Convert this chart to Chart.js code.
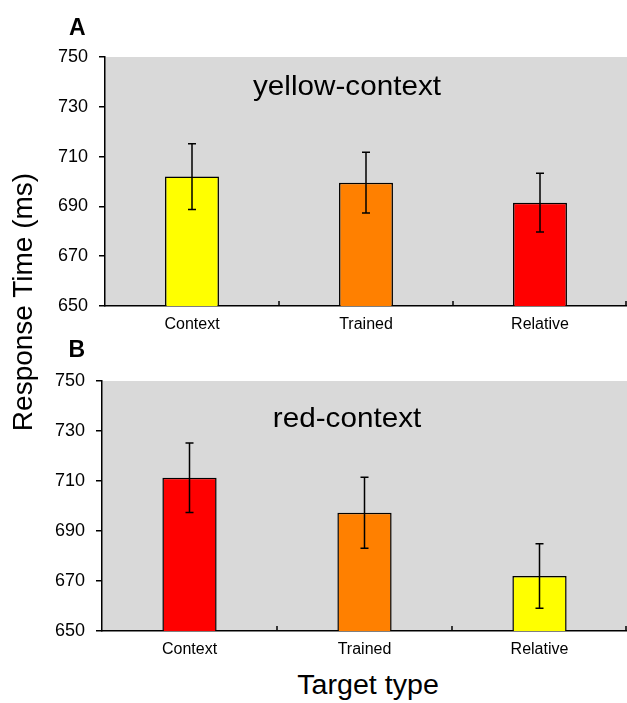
<!DOCTYPE html>
<html lang="en">
<head>
    <meta charset="UTF-8">
    <title>Response Time by Target type</title>
    <script src="https://cdn.jsdelivr.net/npm/chart.js"></script>
    <style>
        body { margin: 0; background: #fff; font-family: "Liberation Sans", Arial, sans-serif; }
        .figure { position: relative; width: 627px; height: 703px; overflow: hidden; }
        .figure canvas { position: absolute; left: 0; }
        .txt { position: absolute; line-height: 1; white-space: nowrap; color: #000; }
        .panel-title { font-size: 28px; transform: translateX(-50%) scaleX(1.06); }
        .letter { font-size: 23px; font-weight: bold; }
    </style>
</head>
<body>
    <div class="figure">
        <canvas id="chartA" width="627" height="345" style="top:0"></canvas>
        <canvas id="chartB" width="627" height="340" style="top:330px"></canvas>

        <div class="txt letter" style="left:69px; top:15.5px">A</div>
        <div class="txt letter" style="left:68.5px; top:338px">B</div>
        <div class="txt panel-title" style="left:347px; top:72px">yellow-context</div>
        <div class="txt panel-title" style="left:347px; top:404px">red-context</div>
        <div class="txt" style="left:-127px; top:288px; width:300px; text-align:center; font-size:28px; transform:rotate(-90deg)">Response Time (ms)</div>
        <div class="txt" style="left:367.5px; top:672px; font-size:27px; transform:translateX(-50%) scaleX(1.06)">Target type</div>
    </div>

<script>
// data
const categories = ['Context', 'Trained', 'Relative'];
const yTicks = [650, 670, 690, 710, 730, 750];

// panel A - yellow context
const yellowMeans = [702, 699.5, 691.5];
const yellowErr = [13.2, 12.2, 11.8];
const yellowColors = ['#ffff00', '#ff8000', '#ff0000'];

// panel B - red context
const redMeans = [711.3, 697.3, 672];
const redErr = [13.9, 14.2, 12.9];
const redColors = ['#ff0000', '#ff8000', '#ffff00'];

const fontFamily = '"Liberation Sans", Arial, sans-serif';

// gray plot area + inner tick marks on x axis + error bars
const panelPlugin = {
    id: 'panelPlugin',
    beforeDraw(chart) {
        const a = chart.chartArea;
        const ctx = chart.ctx;
        ctx.save();
        ctx.fillStyle = '#d9d9d9';
        ctx.fillRect(a.left, a.top, a.right - a.left, a.bottom - a.top);
        ctx.restore();
    },
    afterDatasetsDraw(chart) {
        const ctx = chart.ctx;
        const xs = chart.scales.x;
        const ys = chart.scales.y;
        const errs = chart.options.plugins.panelPlugin.errors;
        const meta = chart.getDatasetMeta(0);
        const data = chart.data.datasets[0].data;

        ctx.save();
        ctx.strokeStyle = '#000';
        ctx.lineWidth = 1.5;

        // error bars
        meta.data.forEach((bar, i) => {
            const top = ys.getPixelForValue(data[i] + errs[i]);
            const bot = ys.getPixelForValue(data[i] - errs[i]);
            ctx.beginPath();
            ctx.moveTo(bar.x, top);
            ctx.lineTo(bar.x, bot);
            ctx.moveTo(bar.x - 4, top);
            ctx.lineTo(bar.x + 4, top);
            ctx.moveTo(bar.x - 4, bot);
            ctx.lineTo(bar.x + 4, bot);
            ctx.stroke();
        });

        // tick marks between categories, pointing up into the plot
        for (let i = 1; i <= categories.length; i++) {
            const x = i < categories.length
                ? (xs.getPixelForValue(i - 1) + xs.getPixelForValue(i)) / 2
                : chart.chartArea.right - 1;
            ctx.beginPath();
            ctx.moveTo(x, chart.chartArea.bottom);
            ctx.lineTo(x, chart.chartArea.bottom - 5);
            ctx.stroke();
        }
        ctx.restore();
    }
};

function makePanel(canvasId, means, errs, colors, padTop, yWidth) {
    const ctx = document.getElementById(canvasId).getContext('2d');
    return new Chart(ctx, {
        type: 'bar',
        data: {
            labels: categories,
            datasets: [{
                data: means,
                backgroundColor: colors,
                borderColor: '#000',
                borderWidth: 1.5,
                borderSkipped: false,
                barPercentage: 0.31,
                categoryPercentage: 1
            }]
        },
        options: {
            responsive: false,
            animation: false,
            layout: { padding: { top: padTop, left: 0, right: 0, bottom: 0 } },
            plugins: {
                legend: { display: false },
                tooltip: { enabled: false },
                panelPlugin: { errors: errs }
            },
            scales: {
                x: {
                    grid: { drawOnChartArea: false, drawTicks: false, display: false },
                    border: { display: true, color: '#000', width: 1.5 },
                    ticks: {
                        color: '#000',
                        padding: 9,
                        font: { family: fontFamily, size: 16 }
                    },
                    afterFit(scale) { scale.height = 39; }
                },
                y: {
                    min: 650,
                    max: 750,
                    afterBuildTicks(scale) {
                        scale.ticks = yTicks.map(v => ({ value: v }));
                    },
                    grid: {
                        drawOnChartArea: false,
                        drawTicks: true,
                        tickLength: 6,
                        color: '#000',
                        lineWidth: 1.5
                    },
                    border: { display: true, color: '#000', width: 1.5 },
                    ticks: {
                        color: '#000',
                        padding: 11,
                        font: { family: fontFamily, size: 18 }
                    },
                    afterFit(scale) { scale.width = yWidth; }
                }
            }
        },
        plugins: [panelPlugin]
    });
}

makePanel('chartA', yellowMeans, yellowErr, yellowColors, 57, 105);
makePanel('chartB', redMeans, redErr, redColors, 51, 102);
</script>
</body>
</html>
